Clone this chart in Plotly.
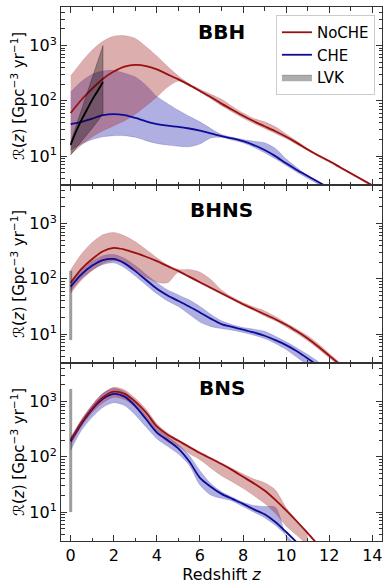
import numpy as np
import plotly.graph_objects as go
from plotly.subplots import make_subplots

# redshift grid shared by all model curves
z = [0, 0.5, 1, 1.5, 2, 2.5, 3, 3.5, 4, 4.5, 5, 5.5, 6, 6.5, 7, 7.5, 8, 8.5, 9, 9.5,
     10, 10.5, 11, 11.5, 12, 12.5, 13, 13.5, 14]

# all rates as log10(R / Gpc^-3 yr^-1)
# --- BBH ---
bbh_noche_mid = [1.78, 2.02, 2.22, 2.40, 2.53, 2.62, 2.65, 2.63, 2.57, 2.48, 2.39, 2.29, 2.18, 2.07, 1.95,
                 1.84, 1.73, 1.63, 1.54, 1.45, 1.35, 1.24, 1.12, 1.01, 0.91, 0.80, 0.69, 0.58, 0.47]
bbh_noche_hi = [2.45, 2.70, 2.92, 3.08, 3.17, 3.18, 3.13, 2.98, 2.81, 2.62, 2.45, 2.31, 2.21, 2.12, 2.03,
                1.90, 1.78, 1.68, 1.62, 1.53, 1.40, 1.27, 1.14, 1.02, 0.92, 0.81, 0.70, 0.59, 0.48]
bbh_noche_lo = [1.03, 1.20, 1.35, 1.46, 1.55, 1.64, 1.76, 1.91, 2.07, 2.25, 2.36, 2.27, 2.16, 2.04, 1.91,
                1.80, 1.69, 1.59, 1.50, 1.41, 1.32, 1.21, 1.10, 0.99, 0.89, 0.78, 0.67, 0.56, 0.45]
bbh_che_mid = [1.58, 1.62, 1.68, 1.74, 1.76, 1.74, 1.69, 1.63, 1.58, 1.55, 1.53, 1.50, 1.46, 1.41, 1.36,
               1.32, 1.27, 1.20, 1.11, 1.00, 0.87, 0.75, 0.64, 0.53, 0.42, 0.30]
bbh_che_hi = [2.16, 2.35, 2.48, 2.54, 2.55, 2.50, 2.43, 2.28, 2.08, 1.95, 1.83, 1.72, 1.62, 1.50, 1.39,
              1.34, 1.30, 1.27, 1.24, 1.14, 0.95, 0.79, 0.65, 0.54, 0.43, 0.31]
bbh_che_lo = [1.11, 1.22, 1.30, 1.35, 1.37, 1.37, 1.34, 1.28, 1.23, 1.20, 1.18, 1.17, 1.22, 1.33, 1.34,
              1.29, 1.24, 1.16, 1.06, 0.95, 0.83, 0.71, 0.60, 0.49, 0.38, 0.27]

# --- BHNS ---
bhns_noche_mid = [1.93, 2.18, 2.36, 2.50, 2.56, 2.53, 2.47, 2.40, 2.32, 2.23, 2.14, 2.04, 1.94, 1.84, 1.74,
                  1.64, 1.54, 1.45, 1.36, 1.27, 1.17, 1.05, 0.92, 0.77, 0.61, 0.45]
bhns_noche_hi = [2.16, 2.45, 2.66, 2.80, 2.84, 2.78, 2.67, 2.53, 2.38, 2.25, 2.17, 2.17, 2.12, 1.99, 1.80,
                 1.67, 1.57, 1.49, 1.42, 1.32, 1.20, 1.09, 0.97, 0.82, 0.65, 0.48]
bhns_noche_lo = [1.74, 1.98, 2.15, 2.28, 2.33, 2.28, 2.15, 2.03, 1.94, 1.93, 2.12, 2.02, 1.92, 1.82, 1.72,
                 1.62, 1.52, 1.43, 1.33, 1.24, 1.13, 1.01, 0.88, 0.73, 0.57, 0.41]
bhns_che_mid = [1.86, 2.08, 2.24, 2.34, 2.36, 2.28, 2.14, 1.98, 1.82, 1.70, 1.60, 1.50, 1.39, 1.28, 1.18,
                1.13, 1.08, 1.03, 0.97, 0.89, 0.80, 0.69, 0.56, 0.42]
bhns_che_hi = [1.92, 2.15, 2.32, 2.42, 2.44, 2.37, 2.24, 2.08, 1.93, 1.80, 1.71, 1.62, 1.50, 1.36, 1.24,
               1.17, 1.12, 1.09, 1.05, 0.96, 0.86, 0.75, 0.63, 0.50, 0.38]
bhns_che_lo = [1.78, 2.00, 2.16, 2.26, 2.29, 2.20, 2.05, 1.89, 1.73, 1.60, 1.50, 1.36, 1.22, 1.14, 1.10,
               1.07, 1.03, 0.98, 0.92, 0.83, 0.72, 0.58, 0.44, 0.30]

# --- BNS ---
bns_noche_mid = [2.30, 2.62, 2.88, 3.08, 3.18, 3.14, 3.00, 2.80, 2.55, 2.40, 2.29, 2.18, 2.07, 1.97, 1.87,
                 1.76, 1.64, 1.52, 1.39, 1.22, 1.03, 0.83, 0.62, 0.40]
bns_noche_hi = [2.34, 2.67, 2.94, 3.15, 3.26, 3.21, 3.06, 2.86, 2.60, 2.43, 2.31, 2.20, 2.09, 1.99, 1.89,
                1.79, 1.69, 1.60, 1.53, 1.40, 1.08, 0.85, 0.64, 0.42]
bns_noche_lo = [2.22, 2.55, 2.80, 2.98, 3.08, 3.04, 2.90, 2.70, 2.44, 2.27, 2.19, 2.06, 1.95, 1.80, 1.66,
                1.55, 1.43, 1.30, 1.16, 0.98, 0.75, 0.58, 0.40]
bns_che_mid = [2.28, 2.60, 2.86, 3.05, 3.14, 3.09, 2.92, 2.68, 2.44, 2.30, 2.15, 1.92, 1.62, 1.46, 1.33,
               1.24, 1.15, 1.05, 0.96, 0.82, 0.64, 0.45]
bns_che_hi = [2.35, 2.67, 2.94, 3.15, 3.24, 3.18, 2.99, 2.75, 2.52, 2.37, 2.22, 2.03, 1.75, 1.52, 1.37,
              1.27, 1.18, 1.12, 1.10, 1.09, 0.55, 0.20]
bns_che_lo = [2.12, 2.48, 2.72, 2.90, 2.98, 2.93, 2.76, 2.54, 2.33, 2.19, 2.05, 1.85, 1.49, 1.31, 1.25,
              1.20, 1.10, 1.00, 0.90, 0.76, 0.58, 0.38]

# --- LVK constraints (actual rates) ---
lvk_bbh_z = [0, 0.5, 1.0, 1.5]
lvk_bbh_hi = [18, 68, 265, 1000]
lvk_bbh_lo = [10.5, 18.6, 32, 58]
lvk_bbh_mid_z = [0, 0.25, 0.5, 0.75, 1.0, 1.25, 1.5]
lvk_bbh_mid = [16, 28, 45, 69, 105, 151, 219]
lvk_bhns = [7.8, 140]
lvk_bns = [10, 1700]

panels = ["BBH", "BHNS", "BNS"]

RED = "#9a0f0f"
BLUE = "#0c0c96"
RED_FILL = "rgba(165,42,42,0.38)"
BLUE_FILL = "rgba(25,25,170,0.35)"
AX = "#333333"

fig = make_subplots(rows=3, cols=1, shared_xaxes=True, vertical_spacing=0)


def band(row, hi, lo, fill):
    n = min(len(hi), len(lo))
    fig.add_trace(go.Scatter(x=z[:n], y=10 ** np.array(hi[:n]), mode="lines",
                             line=dict(width=0.5, color=fill, shape="spline", smoothing=0.8),
                             showlegend=False, hoverinfo="skip"), row=row, col=1)
    fig.add_trace(go.Scatter(x=z[:n], y=10 ** np.array(lo[:n]), mode="lines", fill="tonexty",
                             fillcolor=fill,
                             line=dict(width=0.5, color=fill, shape="spline", smoothing=0.8),
                             showlegend=False, hoverinfo="skip"), row=row, col=1)


def median(row, mid, color, name, legend):
    fig.add_trace(go.Scatter(x=z[:len(mid)], y=10 ** np.array(mid), mode="lines", name=name,
                             line=dict(width=1.8, color=color, shape="spline", smoothing=0.8),
                             showlegend=legend, legendrank=1 if name == "NoCHE" else 2),
                  row=row, col=1)


data = [
    (bbh_noche_mid, bbh_noche_hi, bbh_noche_lo, bbh_che_mid, bbh_che_hi, bbh_che_lo),
    (bhns_noche_mid, bhns_noche_hi, bhns_noche_lo, bhns_che_mid, bhns_che_hi, bhns_che_lo),
    (bns_noche_mid, bns_noche_hi, bns_noche_lo, bns_che_mid, bns_che_hi, bns_che_lo),
]

for i, (nm, nh, nl, cm, ch, cl) in enumerate(data):
    row = i + 1
    band(row, ch, cl, BLUE_FILL)
    band(row, nh, nl, RED_FILL)
    median(row, cm, BLUE, "CHE", row == 1)
    median(row, nm, RED, "NoCHE", row == 1)

# LVK BBH: shaded wedge plus median
fig.add_trace(go.Scatter(x=lvk_bbh_z + lvk_bbh_z[::-1], y=lvk_bbh_hi + lvk_bbh_lo[::-1],
                         fill="toself", fillcolor="rgba(0,0,0,0.32)", mode="lines",
                         line=dict(width=0.6, color="rgba(0,0,0,0.45)"), name="LVK",
                         legendrank=3, hoverinfo="skip"), row=1, col=1)
fig.add_trace(go.Scatter(x=lvk_bbh_mid_z, y=lvk_bbh_mid, mode="lines",
                         line=dict(width=1.8, color="black", shape="spline"),
                         showlegend=False), row=1, col=1)
# LVK BHNS / BNS: local rate intervals
for row, iv in [(2, lvk_bhns), (3, lvk_bns)]:
    fig.add_trace(go.Scatter(x=[0, 0], y=iv, mode="lines",
                             line=dict(width=3, color="rgba(0,0,0,0.38)"),
                             showlegend=False), row=row, col=1)

ylog_minor = [m * 10 ** k for k in range(0, 4) for m in range(2, 10)]
W, H = 390, 586
ML, MR, MT, MB = 61, 8, 7, 45
pw = W - ML - MR

for row, name in enumerate(panels, start=1):
    ya = fig.layout["yaxis" if row == 1 else "yaxis%d" % row]
    lo, hi = ya.domain
    # panel label, ~25 px below the panel top
    fig.add_annotation(text="<b>%s</b>" % name, x=7, xref="x",
                       y=lo + 0.86 * (hi - lo), yref="paper", yanchor="middle",
                       showarrow=False, font=dict(size=20, color="black"))
    # y title drawn as a rotated annotation so it sits where the reference has it
    fig.add_annotation(text="ℛ(<i>z</i>) [Gpc<sup>−3</sup> yr<sup>−1</sup>]",
                       x=-(ML - 18) / pw, xref="paper", xanchor="center",
                       y=(lo + hi) / 2, yref="paper", yanchor="middle",
                       textangle=-90, showarrow=False, font=dict(size=15, color="black"))
    fig.update_yaxes(type="log", range=[np.log10(3), np.log10(5000)],
                     tickvals=[10, 100, 1000],
                     ticktext=["10<sup>1</sup>", "10<sup>2</sup>", "10<sup>3</sup>"],
                     ticks="inside", ticklen=6, tickwidth=1, tickcolor=AX,
                     minor=dict(tickvals=ylog_minor, ticks="inside", ticklen=3.5, tickcolor=AX),
                     showline=True, linecolor=AX, linewidth=1, mirror="allticks",
                     showgrid=False, zeroline=False, automargin=False,
                     tickfont=dict(size=16, color="black"),
                     row=row, col=1)
    fig.update_xaxes(range=[-0.45, 14.45], tickvals=list(range(0, 15, 2)),
                     ticks="inside", ticklen=6, tickwidth=1, tickcolor=AX,
                     minor=dict(dtick=1, ticks="inside", ticklen=3.5, tickcolor=AX),
                     showline=True, linecolor=AX, linewidth=1, mirror="allticks",
                     showgrid=False, zeroline=False, automargin=False,
                     tickfont=dict(size=16, color="black"),
                     row=row, col=1)

fig.update_xaxes(title=dict(text="Redshift <i>z</i>", font=dict(size=16, color="black"), standoff=2),
                 row=3, col=1)

fig.update_layout(
    width=W, height=H,
    margin=dict(l=ML, r=MR, t=MT, b=MB, autoexpand=False),
    font=dict(family="DejaVu Sans", color="black"),
    paper_bgcolor="white", plot_bgcolor="white",
    hovermode=False,
    legend=dict(x=0.978, y=0.985, xanchor="right", yanchor="top", traceorder="normal",
                bgcolor="white", bordercolor="#cccccc", borderwidth=1,
                font=dict(size=15, color="black"), tracegroupgap=0,
                itemwidth=30),
)

# page body has an 8px default margin; drop it so the figure fills the window
fig.write_html("out.html", config={"displayModeBar": False},
               post_script="document.body.style.margin='0px';")
